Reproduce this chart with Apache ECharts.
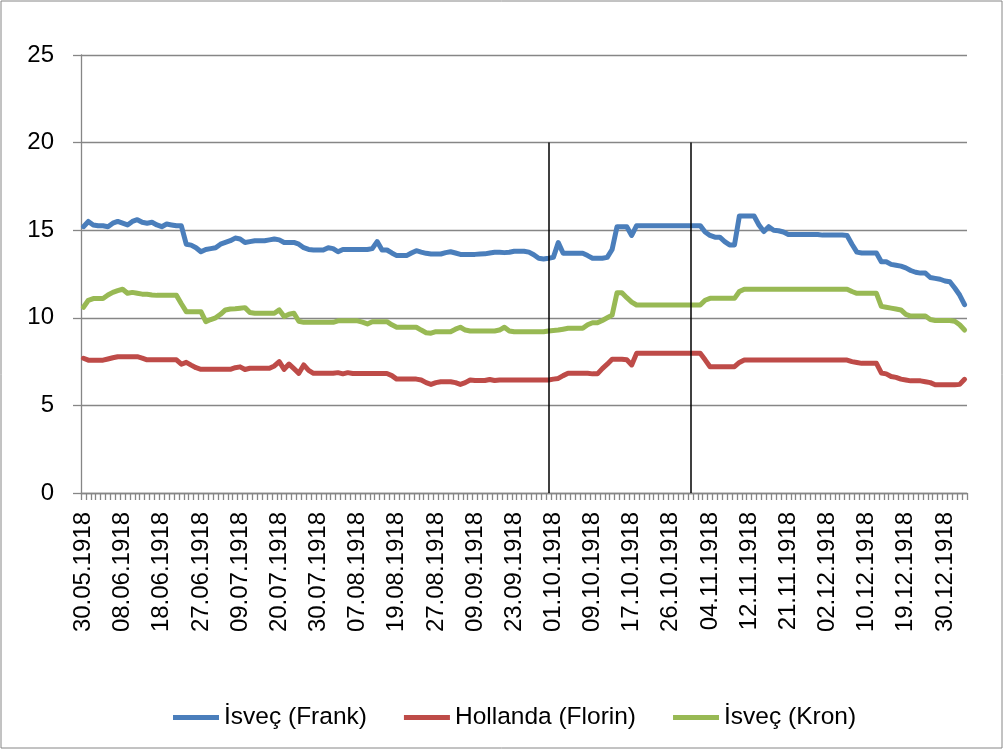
<!DOCTYPE html>
<html>
<head>
<meta charset="utf-8">
<script src="https://cdn.jsdelivr.net/npm/echarts@6/dist/echarts.min.js"></script>
<style>
html,body{margin:0;padding:0;background:#fff;}
#c{width:1004px;height:751px;}
</style>
</head>
<body>
<div id="c"></div>
<script>
// Visible date labels (every 8th trading day)
const tickLabels = ['30.05.1918','08.06.1918','18.06.1918','27.06.1918','09.07.1918','20.07.1918','30.07.1918','07.08.1918','19.08.1918','27.08.1918','09.09.1918','23.09.1918','01.10.1918','09.10.1918','17.10.1918','26.10.1918','04.11.1918','12.11.1918','21.11.1918','02.12.1918','10.12.1918','19.12.1918','30.12.1918'];
const pointCount = 181;
const labelStep = 8;

const seriesNames = ['İsveç (Frank)', 'Hollanda (Florin)', 'İsveç (Kron)'];

const frank = [
15.2,15.5,15.3,15.25,15.25,15.2,15.4,15.5,15.4,15.3,
15.5,15.6,15.45,15.4,15.45,15.3,15.2,15.35,15.3,15.25,
15.25,14.2,14.15,14.0,13.77,13.9,13.95,14.0,14.2,14.3,
14.4,14.55,14.5,14.3,14.35,14.4,14.4,14.4,14.45,14.5,
14.45,14.3,14.3,14.3,14.2,14.0,13.9,13.87,13.87,13.87,
14.0,13.95,13.77,13.9,13.9,13.9,13.9,13.9,13.9,13.95,
14.35,13.87,13.87,13.7,13.55,13.55,13.55,13.7,13.83,13.75,
13.68,13.64,13.64,13.64,13.72,13.77,13.7,13.62,13.62,13.62,
13.62,13.64,13.65,13.7,13.74,13.74,13.72,13.74,13.8,13.8,
13.8,13.75,13.6,13.4,13.36,13.4,13.45,14.29,13.68,13.68,
13.68,13.68,13.68,13.55,13.4,13.4,13.4,13.45,13.9,15.2,
15.2,15.2,14.7,15.26,15.26,15.26,15.26,15.26,15.26,15.26,
15.26,15.26,15.26,15.26,15.26,15.26,15.26,14.9,14.7,14.6,
14.6,14.35,14.16,14.16,15.81,15.81,15.81,15.81,15.3,14.92,
15.2,15.0,14.97,14.9,14.76,14.76,14.76,14.76,14.76,14.76,
14.76,14.72,14.72,14.72,14.72,14.72,14.7,14.2,13.75,13.7,
13.7,13.7,13.7,13.2,13.2,13.05,13.0,12.95,12.85,12.7,
12.6,12.55,12.55,12.3,12.25,12.2,12.1,12.06,11.7,11.3,10.75
];

const florin = [
7.69,7.58,7.58,7.58,7.58,7.65,7.72,7.78,7.78,7.78,
7.78,7.78,7.7,7.6,7.6,7.6,7.6,7.6,7.6,7.6,
7.35,7.46,7.3,7.15,7.06,7.06,7.06,7.06,7.06,7.06,
7.06,7.15,7.2,7.05,7.12,7.12,7.12,7.12,7.12,7.25,
7.5,7.06,7.36,7.1,6.83,7.31,7.0,6.83,6.83,6.83,
6.83,6.83,6.87,6.8,6.87,6.82,6.82,6.82,6.82,6.82,
6.82,6.82,6.82,6.7,6.5,6.5,6.5,6.5,6.5,6.45,
6.3,6.2,6.3,6.35,6.35,6.35,6.3,6.2,6.3,6.45,
6.42,6.42,6.42,6.48,6.42,6.45,6.45,6.45,6.45,6.45,
6.45,6.45,6.45,6.45,6.45,6.45,6.5,6.54,6.7,6.83,
6.83,6.83,6.83,6.83,6.8,6.8,7.1,7.35,7.63,7.63,
7.63,7.6,7.31,7.97,7.97,7.97,7.97,7.97,7.97,7.97,
7.97,7.97,7.97,7.97,7.97,7.97,7.97,7.6,7.21,7.21,
7.21,7.21,7.21,7.21,7.45,7.59,7.59,7.59,7.59,7.59,
7.59,7.59,7.59,7.59,7.59,7.59,7.59,7.59,7.59,7.59,
7.59,7.59,7.59,7.59,7.59,7.59,7.59,7.5,7.45,7.4,
7.4,7.4,7.4,6.85,6.8,6.65,6.6,6.5,6.45,6.4,
6.4,6.4,6.35,6.3,6.18,6.18,6.18,6.18,6.18,6.2,6.49
];

const kron = [
10.6,11.0,11.1,11.1,11.1,11.3,11.45,11.55,11.63,11.4,
11.45,11.4,11.35,11.34,11.3,11.28,11.28,11.28,11.28,11.28,
10.8,10.35,10.35,10.35,10.35,9.78,9.9,10.0,10.2,10.45,
10.5,10.52,10.55,10.58,10.3,10.26,10.26,10.26,10.26,10.26,
10.45,10.07,10.2,10.26,9.8,9.74,9.74,9.74,9.74,9.74,
9.74,9.74,9.83,9.83,9.83,9.83,9.83,9.75,9.65,9.78,
9.78,9.78,9.78,9.6,9.46,9.46,9.46,9.46,9.46,9.3,
9.15,9.12,9.21,9.21,9.21,9.21,9.35,9.46,9.3,9.25,
9.25,9.25,9.25,9.25,9.25,9.3,9.46,9.25,9.2,9.2,
9.2,9.2,9.2,9.2,9.2,9.25,9.28,9.3,9.35,9.4,
9.4,9.4,9.4,9.6,9.72,9.72,9.85,10.0,10.15,11.43,
11.43,11.15,10.9,10.73,10.73,10.73,10.73,10.73,10.73,10.73,
10.73,10.73,10.73,10.73,10.73,10.73,10.73,11.0,11.11,11.11,
11.11,11.11,11.11,11.11,11.5,11.63,11.63,11.63,11.63,11.63,
11.63,11.63,11.63,11.63,11.63,11.63,11.63,11.63,11.63,11.63,
11.63,11.63,11.63,11.63,11.63,11.63,11.63,11.5,11.4,11.4,
11.4,11.4,11.4,10.65,10.6,10.55,10.5,10.45,10.2,10.1,
10.1,10.1,10.1,9.9,9.85,9.85,9.85,9.85,9.8,9.6,9.3
];

// Vertical marker lines (category indices)
const markerIdx = [95, 124];
const markerTop = 20;

const colors = ['#4A7EBB', '#BE4B48', '#98B954'];

const categories = [];
for (let i = 0; i < pointCount; i++) {
  categories.push(i % labelStep === 0 ? (tickLabels[i / labelStep] || '') : '');
}

const FONT = 'Liberation Sans';
const gray = '#868686';

const chart = echarts.init(document.getElementById('c'), null, {renderer: 'canvas'});
chart.setOption({
  animation: false,
  backgroundColor: '#fff',
  textStyle: {fontFamily: FONT},
  graphic: [{
    type: 'rect',
    shape: {x: 1, y: 1, width: 1001, height: 747},
    style: {fill: 'none', stroke: gray, lineWidth: 1},
    silent: true
  }],
  grid: {left: 81, top: 55, right: 37, bottom: 258, containLabel: false},
  legend: {
    left: 168,
    top: 700,
    itemWidth: 46,
    itemHeight: 5,
    itemGap: 37,
    icon: 'rect',
    textStyle: {fontSize: 24.5, color: '#000', fontFamily: FONT},
    data: seriesNames
  },
  xAxis: {
    type: 'category',
    data: categories,
    boundaryGap: true,
    axisLine: {lineStyle: {color: gray, width: 1.3}},
    axisTick: {show: true, interval: 0, length: 7, lineStyle: {color: gray, width: 1.3}},
    axisLabel: {
      interval: labelStep - 1,
      rotate: 90,
      margin: 19,
      fontSize: 24,
      color: '#000',
      fontFamily: FONT
    },
    splitLine: {show: false}
  },
  yAxis: {
    type: 'value',
    min: 0,
    max: 25,
    interval: 5,
    axisLine: {show: true, lineStyle: {color: gray, width: 1.3}},
    axisTick: {show: true, length: 8, lineStyle: {color: gray, width: 1.3}},
    axisLabel: {fontSize: 24, color: '#000', margin: 27, fontFamily: FONT},
    splitLine: {show: true, lineStyle: {color: gray, width: 1.3}}
  },
  series: [
    {
      name: seriesNames[0], type: 'line', data: frank, showSymbol: false, symbol: 'none',
      color: colors[0],
      lineStyle: {width: 5, color: colors[0], cap: 'round', join: 'round'},
      markLine: {
        silent: true,
        symbol: ['none', 'none'],
        label: {show: false},
        lineStyle: {color: '#000', width: 1.5, type: 'solid'},
        data: markerIdx.map(m => [{coord: [m, 0]}, {coord: [m, markerTop]}])
      },
      z: 3
    },
    {
      name: seriesNames[1], type: 'line', data: florin, showSymbol: false, symbol: 'none',
      color: colors[1],
      lineStyle: {width: 5, color: colors[1], cap: 'round', join: 'round'},
      z: 3
    },
    {
      name: seriesNames[2], type: 'line', data: kron, showSymbol: false, symbol: 'none',
      color: colors[2],
      lineStyle: {width: 5, color: colors[2], cap: 'round', join: 'round'},
      z: 3
    }
  ]
});
</script>
</body>
</html>
